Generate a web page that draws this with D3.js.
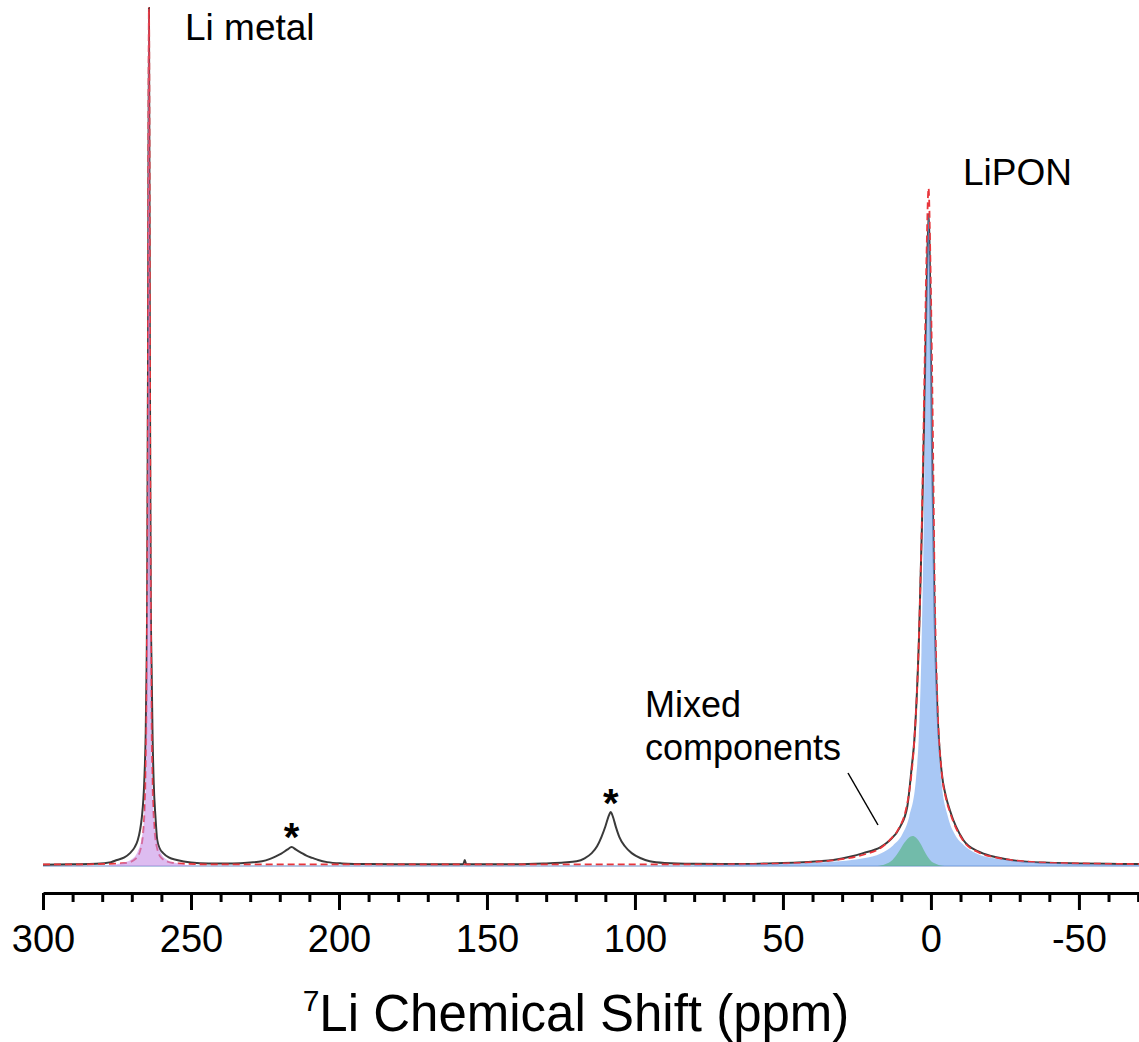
<!DOCTYPE html>
<html lang="en">
<head>
<meta charset="utf-8">
<script src="https://cdn.jsdelivr.net/npm/d3@7"></script>
<style>
  body { margin: 0; background: #fff; }
  svg { display: block; font-family: Arial, "Liberation Sans", sans-serif; }
</style>
</head>
<body>
<div id="chart"></div>
<script>
// experimental 7Li spectrum (ppm / intensity, Li metal peak = 100)
var dataPpm = [300, 290, 282, 277, 275, 272.5, 270.6, 269, 268, 267.2, 266.6, 265.8, 265.3, 265.0, 264.8, 264.5, 264.2,
  263.9, 263.6, 263.3, 263.0, 262.6, 262.0, 261.4, 260.5, 259.4, 257.5, 254.8, 250, 244, 236,
  230, 226, 223.5, 221.5, 219.5, 217.5, 216, 214.5, 213, 211, 209, 207, 204, 199, 190, 175,
  158, 157.5, 157, 140, 130, 124, 119.7, 117, 114.6, 112.8, 111.3, 110, 108.8, 108.2, 107.5, 106.4,
  105.3, 103.4, 101.1, 98, 95, 90, 80, 65, 55, 45, 38, 33, 27, 22.9, 17, 13.9, 10.5, 8.0, 6.5, 5.6,
  4.0, 3.0, 2.0, 1.5, 0.8, 0.2, -0.3, -1.3, -2.2, -3.6, -5, -6.4, -11, -16, -21, -27, -38, -50, -60, -72];
var dataInt = [0.15, 0.2, 0.25, 0.45, 0.7, 1.0, 1.5, 2.2, 3.0, 4.2, 5.7, 9.7, 15.5, 23, 31, 60, 100,
  60, 31, 23, 15.5, 9.7, 5.7, 3.0, 2.0, 1.5, 1.0, 0.7, 0.4, 0.3, 0.3,
  0.4, 0.55, 0.8, 1.1, 1.45, 1.9, 2.2, 1.9, 1.6, 1.2, 0.95, 0.7, 0.45, 0.3, 0.22, 0.2,
  0.2, 0.7, 0.2, 0.2, 0.3, 0.4, 0.55, 0.9, 1.5, 2.3, 3.4, 4.6, 5.9, 6.3, 5.8, 4.5,
  3.4, 2.3, 1.5, 0.9, 0.55, 0.35, 0.25, 0.22, 0.3, 0.4, 0.55, 0.7, 1.1, 1.5, 2.2, 3.0, 4.5, 6.9, 11.5, 14.7,
  27, 40, 57, 66, 76, 66, 50, 28, 18, 11, 8.2, 6.5, 3.0, 1.7, 1.1, 0.7, 0.4, 0.3, 0.25, 0.22];

// cumulative fit
var fitPpm = [300, 285, 272, 268.5, 267, 266, 265.4, 265.0, 264.7, 264.2, 263.7, 263.4, 263.0, 262.4, 261.4, 259.9, 256, 245,
  70, 60, 50, 40, 30, 22, 17, 14, 11, 8.5, 7, 5.6, 4.2, 3.2, 2.3, 1.5, 0.8, 0.2, -0.5, -1.3, -2.2, -3.6, -5, -6.4,
  -11, -16, -21, -27, -38, -50, -72];
var fitInt = [0.18, 0.2, 0.35, 0.9, 2.0, 4.5, 9.5, 20, 40, 100, 40, 20, 9.5, 4.5, 2.0, 0.9, 0.35, 0.2,
  0.2, 0.22, 0.3, 0.45, 0.8, 1.4, 2.1, 3.0, 4.3, 6.5, 9.5, 14.7, 25, 38, 55, 71, 79, 71, 55, 32, 19, 11, 8, 6.3,
  2.9, 1.6, 1.05, 0.7, 0.4, 0.3, 0.22];

// fit components
var liMetalPpm = [280, 274, 270, 268, 266.8, 265.8, 265.2, 264.9, 264.6, 264.2, 263.8, 263.5, 263.2, 262.6, 261.6, 260.4, 258.4, 254.4, 248];
var liMetalInt = [0, 0.3, 0.8, 1.7, 3.0, 5.8, 10.5, 20, 42, 100, 42, 20, 10.5, 5.8, 3.0, 1.7, 0.8, 0.3, 0];

var liponPpm = [80, 55.8, 40.8, 30.8, 22.8, 16.8, 12.8, 9.8, 7.3, 5.1, 4.1, 3.2, 2.4, 1.7, 1.2, 0.8,
  0.4, -0.1, -0.8, -1.6, -2.5, -3.5, -5.7, -8.2, -11.2, -15.2, -21.2, -29.2, -39.2, -54.2, -72];
var liponInt = [0.08, 0.2, 0.35, 0.55, 0.9, 1.5, 2.4, 3.6, 5.8, 10, 15, 25, 40, 60, 71, 76,
  71, 60, 40, 25, 15, 10, 5.8, 3.6, 2.4, 1.5, 0.9, 0.55, 0.35, 0.2, 0.1];

var mixedPpm = [18, 15.5, 13, 11, 9, 7.5, 6.2, 5, 3.5, 2, 0.3, -2, -4.5];
var mixedInt = [0, 0.2, 0.7, 1.6, 2.7, 3.3, 3.5, 3.3, 2.6, 1.6, 0.7, 0.2, 0];

var majorTicks = [300, 250, 200, 150, 100, 50, 0, -50];
var tickLabels = ["300", "250", "200", "150", "100", "50", "0", "-50"];

var width = 1139, height = 1042;

var svg = d3.select("#chart").append("svg")
  .attr("width", width)
  .attr("height", height);

var x = d3.scaleLinear().domain([300, -70.3]).range([43, 1139]);
var y = d3.scaleLinear().domain([0, 100]).range([866, 8]);

function zip(a, b) { return a.map(function(v, i) { return [v, b[i]]; }); }

svg.append("clipPath").attr("id", "plot")
  .append("rect").attr("x", 43).attr("y", 0).attr("width", 1139 - 43).attr("height", 890);

var g = svg.append("g").attr("clip-path", "url(#plot)");

var line = d3.line()
  .x(function(d) { return x(d[0]); })
  .y(function(d) { return y(d[1]); })
  .curve(d3.curveMonotoneX);

var area = d3.area()
  .x(function(d) { return x(d[0]); })
  .y0(y(0))
  .y1(function(d) { return y(d[1]); })
  .curve(d3.curveMonotoneX);

// component baseline
g.append("line")
  .attr("x1", x(300)).attr("x2", x(-70.3))
  .attr("y1", y(0)).attr("y2", y(0))
  .attr("stroke", "#b4c6e4")
  .attr("stroke-width", 2);

g.append("path")
  .datum(zip(dataPpm, dataInt))
  .attr("d", line)
  .attr("fill", "none")
  .attr("stroke", "#3a3a3a")
  .attr("stroke-width", 2);

g.append("path")
  .datum(zip(fitPpm, fitInt))
  .attr("d", line)
  .attr("fill", "none")
  .attr("stroke", "#e8353b")
  .attr("stroke-width", 1.8)
  .attr("stroke-dasharray", "7,4");

g.append("path")
  .datum(zip(liMetalPpm, liMetalInt))
  .attr("d", area)
  .attr("fill", "#c78fe6")
  .attr("fill-opacity", 0.6);

g.append("path")
  .datum(zip(liponPpm, liponInt))
  .attr("d", area)
  .attr("fill", "#6fa3ee")
  .attr("fill-opacity", 0.6);

g.append("path")
  .datum(zip(mixedPpm, mixedInt))
  .attr("d", area)
  .attr("fill", "#4fb378")
  .attr("fill-opacity", 0.6);

// x axis
var axis = svg.append("g")
  .attr("transform", "translate(0,893)")
  .call(d3.axisBottom(x)
    .tickValues(majorTicks)
    .tickFormat(function(d, i) { return tickLabels[i]; })
    .tickSizeInner(17)
    .tickSizeOuter(0)
    .tickPadding(15));
axis.select(".domain").attr("stroke-width", 3);
axis.selectAll(".tick line").attr("stroke-width", 3);
axis.selectAll(".tick text")
  .attr("font-size", 38)
  .attr("font-family", "Arial, 'Liberation Sans', sans-serif")
  .attr("fill", "#000");

var minor = svg.append("g")
  .attr("transform", "translate(0,893)")
  .call(d3.axisBottom(x)
    .tickValues(d3.range(290, -71, -10).filter(function(v) { return v % 50 !== 0; }))
    .tickFormat("")
    .tickSizeInner(9)
    .tickSizeOuter(0));
minor.select(".domain").remove();
minor.selectAll(".tick line").attr("stroke-width", 3);

// axis title
var title = svg.append("text")
  .attr("x", 576)
  .attr("y", 1031)
  .attr("text-anchor", "middle")
  .attr("font-size", 51);
title.append("tspan").attr("font-size", 30).attr("dy", -20).text("7");
title.append("tspan").attr("dy", 20).text("Li Chemical Shift (ppm)");

// annotations
svg.append("text").attr("x", 185).attr("y", 40).attr("font-size", 37).text("Li metal");
svg.append("text").attr("x", 963).attr("y", 185).attr("font-size", 37).text("LiPON");
svg.append("text").attr("x", 645).attr("y", 717).attr("font-size", 36).text("Mixed");
svg.append("text").attr("x", 645).attr("y", 760).attr("font-size", 36).text("components");

svg.append("line")
  .attr("x1", 848).attr("y1", 773)
  .attr("x2", 878).attr("y2", 825)
  .attr("stroke", "#000")
  .attr("stroke-width", 1.5);

svg.append("text").attr("x", x(216)).attr("y", 851)
  .attr("text-anchor", "middle").attr("font-size", 40).attr("font-weight", "bold").text("*");
svg.append("text").attr("x", x(108.2)).attr("y", 817)
  .attr("text-anchor", "middle").attr("font-size", 40).attr("font-weight", "bold").text("*");
</script>
</body>
</html>
